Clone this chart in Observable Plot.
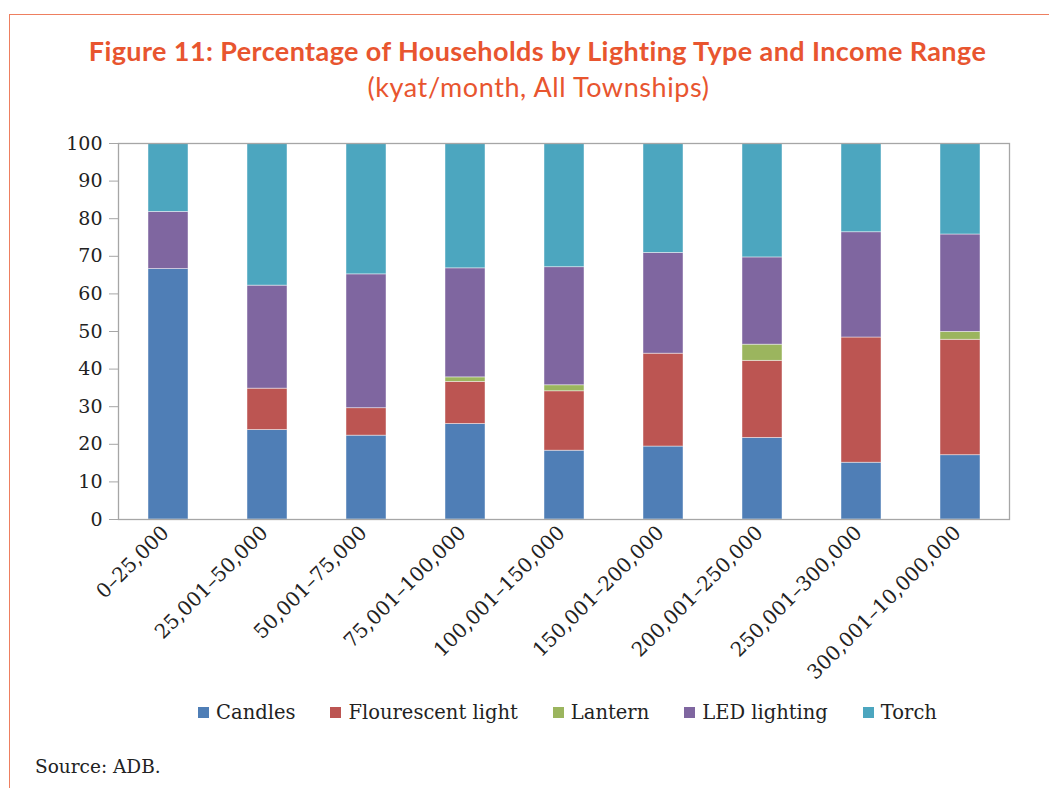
<!DOCTYPE html>
<html>
<head>
<meta charset="utf-8">
<script src="https://cdn.jsdelivr.net/npm/d3@7"></script>
<script src="https://cdn.jsdelivr.net/npm/@observablehq/plot@0.6"></script>
<style>
  html, body { margin: 0; padding: 0; background: #fff; }
  #page { position: relative; width: 1049px; height: 788px; overflow: hidden; background: #fff; }
  #frame { position: absolute; left: 9px; top: 14px; right: -5px; bottom: -5px;
           border-top: 1.5px solid #ee7f60; border-left: 1.5px solid #ee7f60; }
  #title { position: absolute; left: 13px; width: 1049px; top: 34px; text-align: center;
           font-family: Lato, sans-serif; font-weight: 700; font-size: 27px; letter-spacing: 0.4px; color: #e8552f; }
  #subtitle { position: absolute; left: 14px; width: 1049px; top: 70px; text-align: center;
           font-family: Lato, sans-serif; font-weight: 400; font-size: 27px; letter-spacing: 0.6px; color: #e8552f; }
  #chart { position: absolute; left: 0; top: 120px; }
  #chart [aria-label="y-axis tick"] { stroke: #a6a6a6; }
  #legend { position: absolute; left: 43px; width: 1049px; top: 701px; display: flex; justify-content: center;
            gap: 35px; font-family: "DejaVu Serif", serif; font-size: 19.5px; color: #222; }
  .item { display: flex; align-items: center; gap: 7px; }
  .sw { width: 11px; height: 11px; display: inline-block; }
  #source { position: absolute; left: 35px; top: 756px; font-family: "DejaVu Serif", serif; font-size: 18.5px; color: #222; }
</style>
</head>
<body>
<div id="page">
  <div id="frame"></div>
  <div id="title"></div>
  <div id="subtitle"></div>
  <div id="chart"></div>
  <div id="legend"></div>
  <div id="source"></div>
</div>
<script>
const titleText = "Figure 11: Percentage of Households by Lighting Type and Income Range";
const subtitleText = "(kyat/month, All Townships)";
const sourceText = "Source: ADB.";

const categories = ["0–25,000", "25,001–50,000", "50,001–75,000", "75,001–100,000", "100,001–150,000",
                    "150,001–200,000", "200,001–250,000", "250,001–300,000", "300,001–10,000,000"];
const seriesNames = ["Candles", "Flourescent light", "Lantern", "LED lighting", "Torch"];
const seriesColors = ["#4f7eb6", "#bc5552", "#9bb55e", "#7f66a0", "#4ca6bf"];

const candles     = [66.6, 23.8, 22.3, 25.4, 18.3, 19.4, 21.7, 15.1, 17.1];
const flourescent = [0.0, 11.0, 7.3, 11.2, 15.8, 24.7, 20.5, 33.3, 30.7];
const lantern     = [0.0, 0.0, 0.0, 1.2, 1.6, 0.0, 4.3, 0.0, 2.1];
const led         = [15.2, 27.4, 35.6, 29.0, 31.4, 26.8, 23.2, 28.0, 25.9];
const torch       = [18.2, 37.8, 34.8, 33.2, 32.9, 29.1, 30.3, 23.6, 24.2];
const yTicks = [0, 10, 20, 30, 40, 50, 60, 70, 80, 90, 100];

const seriesValues = [candles, flourescent, lantern, led, torch];
const data = [];
seriesNames.forEach((s, si) => {
  categories.forEach((c, ci) => data.push({category: c, series: s, value: seriesValues[si][ci]}));
});

document.getElementById("title").textContent = titleText;
document.getElementById("subtitle").textContent = subtitleText;
document.getElementById("source").textContent = sourceText;

const chart = Plot.plot({
  width: 1049,
  height: 570,
  marginTop: 23,
  marginLeft: 118,
  marginRight: 40,
  marginBottom: 171,
  style: {fontFamily: "'DejaVu Serif', serif", fontSize: "19px", color: "#222", background: "transparent"},
  x: {domain: categories, paddingInner: 0.6, paddingOuter: 0.3, label: null},
  y: {domain: [0, 100], label: null},
  color: {domain: seriesNames, range: seriesColors},
  marks: [
    Plot.barY(data, Plot.stackY({order: seriesNames}, {x: "category", y: "value", fill: "series",
      stroke: "#ffffff", strokeOpacity: 0.55, strokeWidth: 0.8})),
    Plot.frame({stroke: "#a6a6a6", strokeWidth: 1.3}),
    Plot.axisY({ticks: yTicks, tickSize: 9, tickPadding: 7, label: null}),
    Plot.axisX({tickRotate: -45, tickSize: 0, tickPadding: 10, fontSize: 20, dx: -3, label: null})
  ]
});
document.getElementById("chart").appendChild(chart);

const legend = document.getElementById("legend");
seriesNames.forEach((s, i) => {
  const it = document.createElement("div");
  it.className = "item";
  const sw = document.createElement("span");
  sw.className = "sw";
  sw.style.background = seriesColors[i];
  const tx = document.createElement("span");
  tx.textContent = s;
  it.appendChild(sw); it.appendChild(tx);
  legend.appendChild(it);
});
</script>
</body>
</html>
